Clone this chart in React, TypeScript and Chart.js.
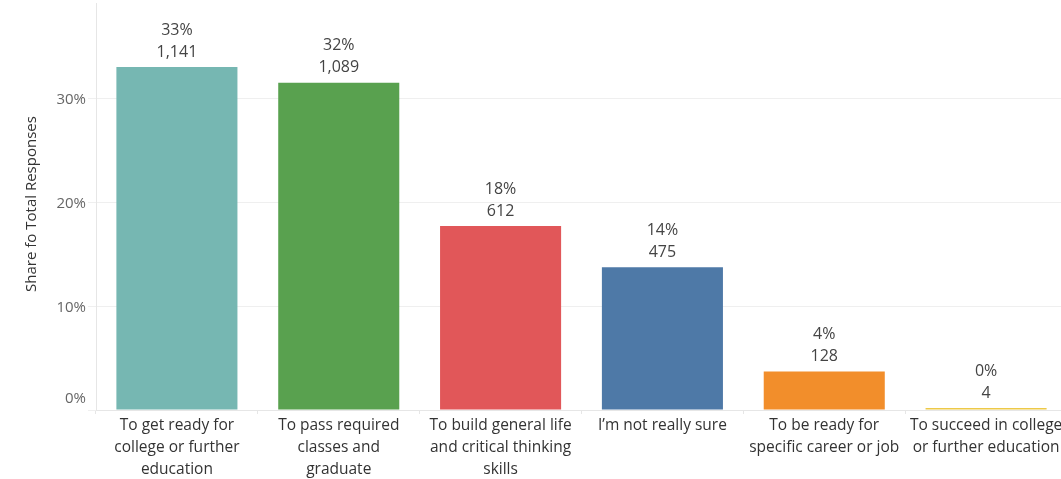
import React, { useEffect, useRef } from "react";
import { Chart, registerables } from "chart.js";

Chart.register(...registerables);

const categories: string[][] = [
  ["To get ready for", "college or further", "education"],
  ["To pass required", "classes and", "graduate"],
  ["To build general life", "and critical thinking", "skills"],
  ["I\u2019m not really sure"],
  ["To be ready for", "specific career or job"],
  ["To succeed in college", "or further education"],
];
const shares: number[] = [33.08, 31.57, 17.74, 13.77, 3.71, 0.12];
const counts: number[] = [1141, 1089, 612, 475, 128, 4];
const colors: string[] = ["#76b7b2", "#59a14f", "#e15759", "#4e79a7", "#f28e2b", "#edc948"];
const yTicks: number[] = [0, 10, 20, 30];
const yTitle = "Share fo Total Responses";

const FONT = "'Open Sans', sans-serif";

const labelPlugin = {
  id: "customLabels",
  afterDraw(chart: any) {
    const ctx = chart.ctx;
    const y = chart.scales.y;
    ctx.save();
    // y tick labels
    ctx.font = `15px ${FONT}`;
    ctx.fillStyle = "#666";
    ctx.textAlign = "right";
    ctx.textBaseline = "middle";
    yTicks.forEach((t) => {
      let py = y.getPixelForValue(t);
      if (t === 0) py -= 12;
      ctx.fillText(`${t}%`, 86, py + 1);
    });
    // y title
    ctx.save();
    ctx.translate(32, 204);
    ctx.rotate(-Math.PI / 2);
    ctx.textAlign = "center";
    ctx.fillStyle = "#333";
    ctx.font = `15px ${FONT}`;
    ctx.fillText(yTitle, 0, 0);
    ctx.restore();
    // data labels
    const meta = chart.getDatasetMeta(0);
    ctx.font = `16px ${FONT}`;
    ctx.fillStyle = "#444";
    ctx.textAlign = "center";
    meta.data.forEach((bar: any, i: number) => {
      const top = bar.y;
      ctx.fillText(`${Math.round(shares[i])}%`, bar.x, top - 37);
      ctx.fillText(counts[i].toLocaleString("en-US"), bar.x, top - 15);
    });
    ctx.restore();
  },
};

export default function App() {
  const ref = useRef<HTMLCanvasElement>(null);
  useEffect(() => {
    document.body.style.margin = "0";
    const chart = new Chart(ref.current!, {
      type: "bar",
      data: {
        labels: categories,
        datasets: [
          {
            data: shares,
            backgroundColor: colors,
            barPercentage: 0.748,
            categoryPercentage: 1,
            minBarLength: 2,
          },
        ],
      },
      options: {
        animation: false,
        responsive: false,
        layout: { padding: { top: 3, left: 0, right: 0, bottom: 0 } },
        plugins: { legend: { display: false }, tooltip: { enabled: false } },
        scales: {
          x: {
            offset: true,
            grid: {
              offset: true,
              drawOnChartArea: false,
              color: "#e6e6e6",
              tickLength: 4,
            },
            border: { display: true, color: "#e6e6e6" },
            ticks: {
              autoSkip: false,
              maxRotation: 0,
              minRotation: 0,
              padding: 1,
              color: "#333",
              font: { family: FONT, size: 15.5, lineHeight: 1.42 },
            },
            afterFit: (s: any) => {
              s.height = 69;
            },
          },
          y: {
            min: 0,
            max: 39.26,
            afterBuildTicks: (s: any) => {
              s.ticks = yTicks.map((v) => ({ value: v }));
            },
            grid: { color: "#efefef", tickLength: 8 },
            border: { display: true, color: "#e6e6e6" },
            ticks: { display: false },
            afterFit: (s: any) => {
              s.width = 96;
            },
          },
        },
      },
      plugins: [labelPlugin],
    });
    return () => chart.destroy();
  }, []);
  return (
    <div style={{ position: "fixed", left: 0, top: 0, width: 1061, height: 479, overflow: "hidden", background: "#fff" }}>
      <canvas ref={ref} width={1067} height={479} style={{ display: "block" }} />
    </div>
  );
}
